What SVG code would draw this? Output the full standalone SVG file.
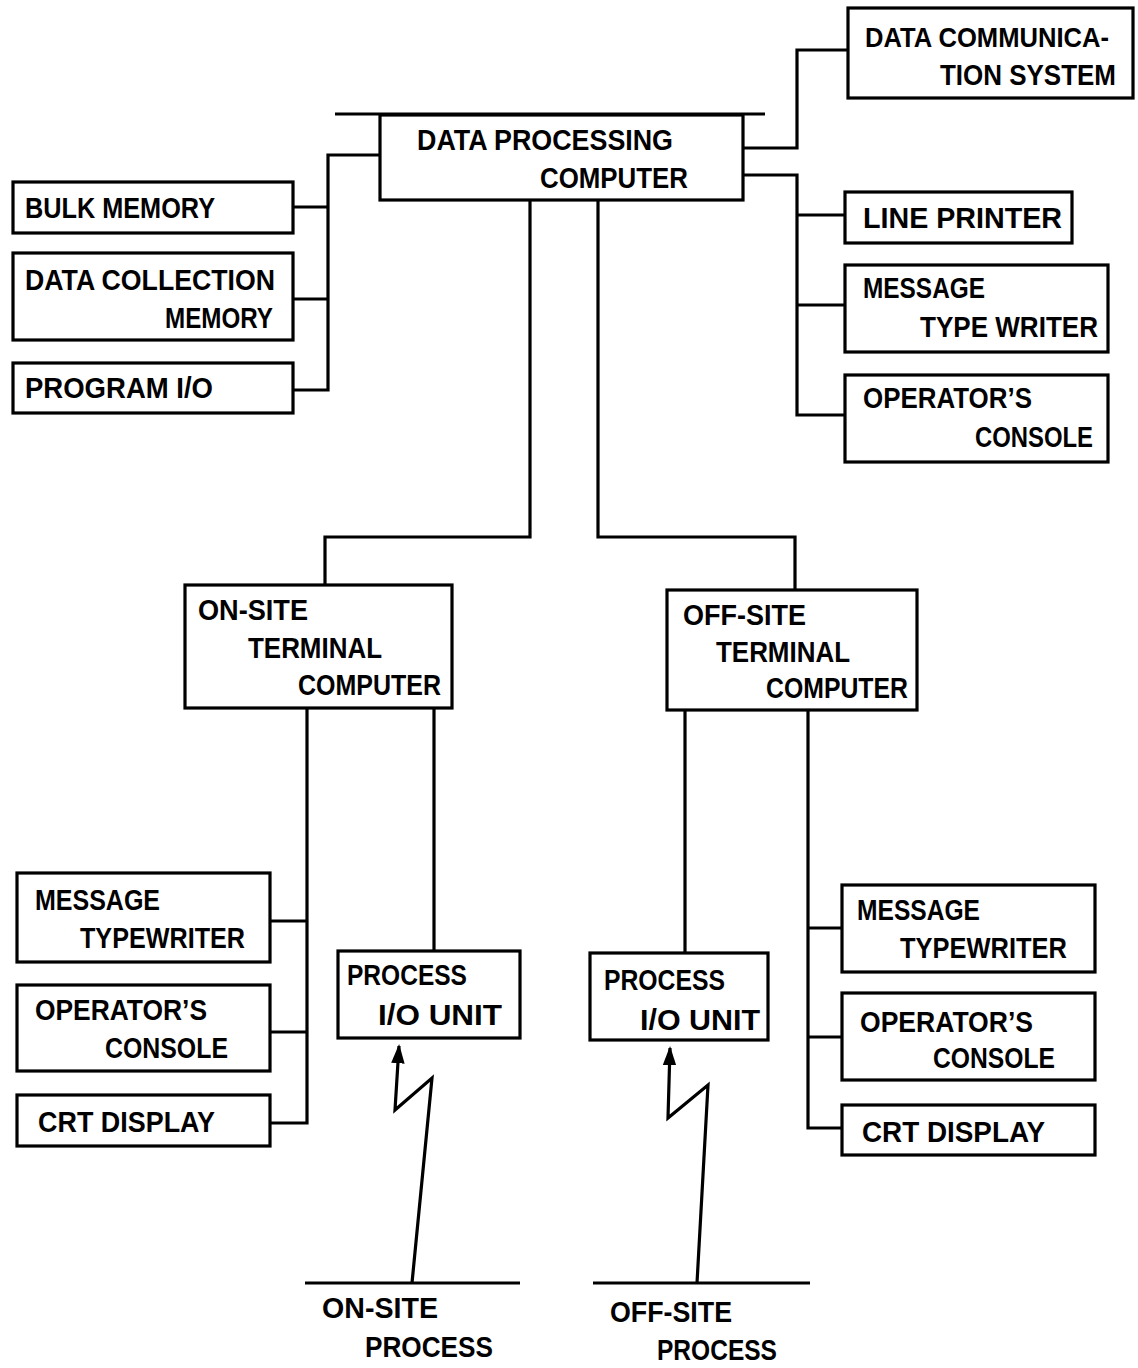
<svg xmlns="http://www.w3.org/2000/svg" width="1138" height="1368" viewBox="0 0 1138 1368">
  <style>
    .box { fill: #fff; stroke: #000; stroke-width: 3.2; }
    .wire { fill: none; stroke: #000; stroke-width: 3.2; stroke-linejoin: miter; }
    .bolt { fill: none; stroke: #000; stroke-width: 3.2; stroke-linejoin: miter; }
    text { font-family: "Liberation Sans", Arial, sans-serif; font-weight: bold; font-size: 29px; fill: #000; }
    text.tight { font-size: 27px; }
  </style>
  <defs>
    <marker id="tip" viewBox="0 0 10 10" refX="9" refY="5" markerWidth="6" markerHeight="6" orient="auto" markerUnits="strokeWidth">
      <path d="M0,1.5 L10,5 L0,8.5 Z" fill="#000"/>
    </marker>
  </defs>
  <rect width="1138" height="1368" fill="#fff"/>

  <!-- connectors -->
  <g id="connectors">
    <!-- central computer to storage units -->
    <path class="wire" d="M380,155 H328 V390 H293"/>
    <path class="wire" d="M293,207 H328"/>
    <path class="wire" d="M293,299 H328"/>
    <!-- central computer to communication system -->
    <path class="wire" d="M743,148 H797 V50 H848"/>
    <!-- central computer to peripherals -->
    <path class="wire" d="M743,175 H797 V415 H845"/>
    <path class="wire" d="M797,215 H845"/>
    <path class="wire" d="M797,305 H845"/>
    <!-- central computer to terminal computers -->
    <path class="wire" d="M530,200 V537 H325 V585"/>
    <path class="wire" d="M598,200 V537 H795 V590"/>
    <!-- on-site terminal bus -->
    <path class="wire" d="M307,708 V1123 H270"/>
    <path class="wire" d="M270,921 H307"/>
    <path class="wire" d="M270,1032 H307"/>
    <path class="wire" d="M434,708 V951"/>
    <!-- off-site terminal bus -->
    <path class="wire" d="M808,710 V1128 H842"/>
    <path class="wire" d="M808,928 H842"/>
    <path class="wire" d="M808,1037 H842"/>
    <path class="wire" d="M685,710 V953"/>
    <!-- process links -->
    <path class="bolt" d="M412,1283 L432,1078 L395,1110 L399,1046" marker-end="url(#tip)"/>
    <path class="bolt" d="M697,1283 L708,1085 L668,1118 L670,1048" marker-end="url(#tip)"/>
    <path class="wire" d="M305,1283 H520"/>
    <path class="wire" d="M593,1283 H810"/>
  </g>

  <g id="data-processing-computer">
    <rect class="box" x="380" y="115" width="363" height="85"/>
    <path class="wire" d="M335,114 H765"/>
    <text x="417" y="150" textLength="256" lengthAdjust="spacingAndGlyphs">DATA PROCESSING</text>
    <text x="540" y="188" textLength="148" lengthAdjust="spacingAndGlyphs">COMPUTER</text>
  </g>

  <g id="data-communication-system">
    <rect class="box" x="848" y="8" width="285" height="90"/>
    <text class="tight" x="865" y="47" textLength="244" lengthAdjust="spacingAndGlyphs">DATA COMMUNICA-</text>
    <text x="940" y="85" textLength="176" lengthAdjust="spacingAndGlyphs">TION SYSTEM</text>
  </g>

  <g id="bulk-memory">
    <rect class="box" x="13" y="182" width="280" height="51"/>
    <text x="25" y="218" textLength="190" lengthAdjust="spacingAndGlyphs">BULK MEMORY</text>
  </g>

  <g id="data-collection-memory">
    <rect class="box" x="13" y="253" width="280" height="87"/>
    <text x="25" y="290" textLength="250" lengthAdjust="spacingAndGlyphs">DATA COLLECTION</text>
    <text x="165" y="328" textLength="108" lengthAdjust="spacingAndGlyphs">MEMORY</text>
  </g>

  <g id="program-io">
    <rect class="box" x="13" y="363" width="280" height="50"/>
    <text x="25" y="398" textLength="188" lengthAdjust="spacingAndGlyphs">PROGRAM I/O</text>
  </g>

  <g id="line-printer">
    <rect class="box" x="845" y="192" width="227" height="51"/>
    <text x="863" y="228" textLength="199" lengthAdjust="spacingAndGlyphs">LINE PRINTER</text>
  </g>

  <g id="message-type-writer">
    <rect class="box" x="845" y="265" width="263" height="87"/>
    <text x="863" y="298" textLength="122" lengthAdjust="spacingAndGlyphs">MESSAGE</text>
    <text x="920" y="337" textLength="178" lengthAdjust="spacingAndGlyphs">TYPE WRITER</text>
  </g>

  <g id="operators-console">
    <rect class="box" x="845" y="375" width="263" height="87"/>
    <text x="863" y="408" textLength="169" lengthAdjust="spacingAndGlyphs">OPERATOR’S</text>
    <text x="975" y="447" textLength="118" lengthAdjust="spacingAndGlyphs">CONSOLE</text>
  </g>

  <g id="on-site-terminal-computer">
    <rect class="box" x="185" y="585" width="267" height="123"/>
    <text x="198" y="620" textLength="110" lengthAdjust="spacingAndGlyphs">ON-SITE</text>
    <text x="248" y="658" textLength="134" lengthAdjust="spacingAndGlyphs">TERMINAL</text>
    <text x="298" y="695" textLength="143" lengthAdjust="spacingAndGlyphs">COMPUTER</text>
  </g>

  <g id="off-site-terminal-computer">
    <rect class="box" x="667" y="590" width="250" height="120"/>
    <text x="683" y="625" textLength="123" lengthAdjust="spacingAndGlyphs">OFF-SITE</text>
    <text x="716" y="662" textLength="134" lengthAdjust="spacingAndGlyphs">TERMINAL</text>
    <text x="766" y="698" textLength="142" lengthAdjust="spacingAndGlyphs">COMPUTER</text>
  </g>

  <g id="on-site-message-typewriter">
    <rect class="box" x="17" y="873" width="253" height="89"/>
    <text x="35" y="910" textLength="125" lengthAdjust="spacingAndGlyphs">MESSAGE</text>
    <text x="80" y="948" textLength="165" lengthAdjust="spacingAndGlyphs">TYPEWRITER</text>
  </g>

  <g id="on-site-operators-console">
    <rect class="box" x="17" y="985" width="253" height="86"/>
    <text x="35" y="1020" textLength="172" lengthAdjust="spacingAndGlyphs">OPERATOR’S</text>
    <text x="105" y="1058" textLength="123" lengthAdjust="spacingAndGlyphs">CONSOLE</text>
  </g>

  <g id="on-site-crt-display">
    <rect class="box" x="17" y="1095" width="253" height="51"/>
    <text x="38" y="1132" textLength="177" lengthAdjust="spacingAndGlyphs">CRT DISPLAY</text>
  </g>

  <g id="on-site-process-io-unit">
    <rect class="box" x="338" y="951" width="182" height="87"/>
    <text x="347" y="985" textLength="120" lengthAdjust="spacingAndGlyphs">PROCESS</text>
    <text x="378" y="1025" textLength="124" lengthAdjust="spacingAndGlyphs">I/O UNIT</text>
  </g>

  <g id="off-site-process-io-unit">
    <rect class="box" x="590" y="953" width="178" height="87"/>
    <text x="604" y="990" textLength="121" lengthAdjust="spacingAndGlyphs">PROCESS</text>
    <text x="640" y="1030" textLength="120" lengthAdjust="spacingAndGlyphs">I/O UNIT</text>
  </g>

  <g id="off-site-message-typewriter">
    <rect class="box" x="842" y="885" width="253" height="87"/>
    <text x="857" y="920" textLength="123" lengthAdjust="spacingAndGlyphs">MESSAGE</text>
    <text x="900" y="958" textLength="167" lengthAdjust="spacingAndGlyphs">TYPEWRITER</text>
  </g>

  <g id="off-site-operators-console">
    <rect class="box" x="842" y="993" width="253" height="87"/>
    <text x="860" y="1032" textLength="173" lengthAdjust="spacingAndGlyphs">OPERATOR’S</text>
    <text x="933" y="1068" textLength="122" lengthAdjust="spacingAndGlyphs">CONSOLE</text>
  </g>

  <g id="off-site-crt-display">
    <rect class="box" x="842" y="1105" width="253" height="50"/>
    <text x="862" y="1142" textLength="183" lengthAdjust="spacingAndGlyphs">CRT DISPLAY</text>
  </g>

  <g id="on-site-process">
    <text x="322" y="1318" textLength="116" lengthAdjust="spacingAndGlyphs">ON-SITE</text>
    <text x="365" y="1357" textLength="128" lengthAdjust="spacingAndGlyphs">PROCESS</text>
  </g>

  <g id="off-site-process">
    <text x="610" y="1322" textLength="122" lengthAdjust="spacingAndGlyphs">OFF-SITE</text>
    <text x="657" y="1360" textLength="120" lengthAdjust="spacingAndGlyphs">PROCESS</text>
  </g>
</svg>
